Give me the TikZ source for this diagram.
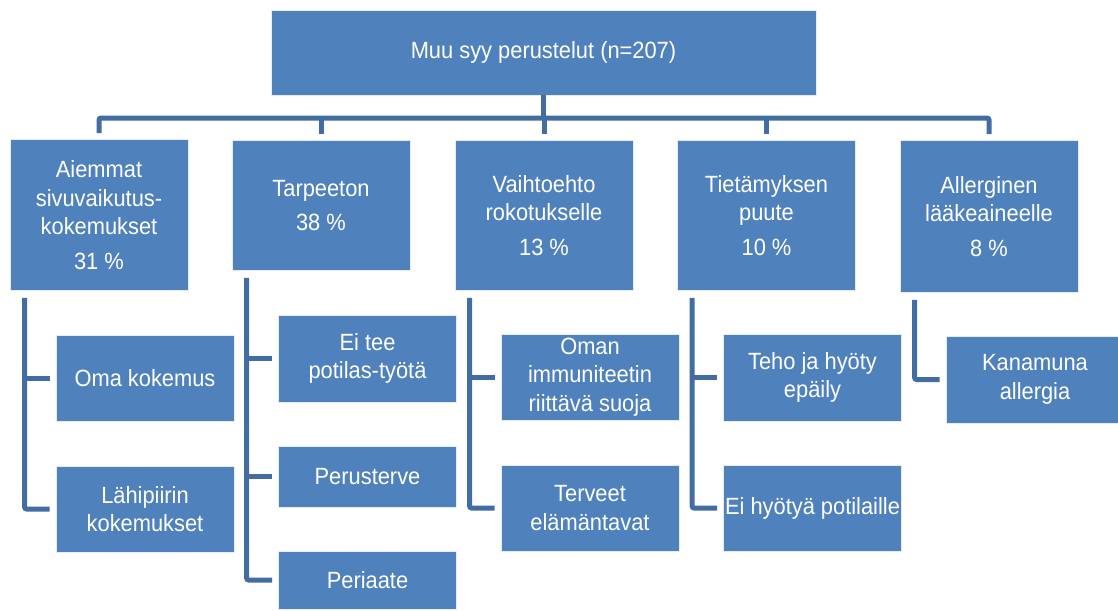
\documentclass[tikz,border=0pt]{standalone}
\usepackage{fontspec}
\setmainfont[FakeStretch=0.93]{Liberation Sans}
\usepackage{tikz}

\definecolor{boxblue}{HTML}{4F81BD}
\definecolor{linkblue}{HTML}{426DA3}

\begin{document}
\begin{tikzpicture}[x=1pt, y=-1pt,
    box/.style={rectangle, fill=boxblue, draw=white!85!boxblue, line width=0.8pt,
        text=white, align=center, inner sep=0pt, minimum width=178pt,
        font=\fontsize{23.5}{28.5}\selectfont},
    link/.style={draw=linkblue, line width=5pt, rounded corners=2pt}]
    \useasboundingbox (0,0) rectangle (1118,610);

    % Top box
    \node[box, minimum width=545pt, minimum height=85pt] (root) at (543.5,52.5) {Muu syy perustelut (n=207)};

    % Level 1: main reasons
    \node[box, anchor=north, minimum height=151pt] (c1) at (99,139) {Aiemmat\\sivuvaikutus-\\kokemukset\\[6pt]31 \%};
    \node[box, anchor=north, minimum height=130pt] (c2) at (321,140) {Tarpeeton\\[6pt]38 \%};
    \node[box, anchor=north, minimum height=150pt] (c3) at (544,140) {Vaihtoehto\\rokotukselle\\[6pt]13 \%};
    \node[box, anchor=north, minimum height=150pt] (c4) at (766.5,140) {Tietämyksen\\puute\\[6pt]10 \%};
    \node[box, anchor=north, minimum height=152pt] (c5) at (989,140) {Allerginen\\lääkeaineelle\\[6pt]8 \%};

    % Level 2: details
    \node[box, minimum height=86pt] (d1a) at (145,378) {Oma kokemus};
    \node[box, minimum height=86pt] (d1b) at (145,509) {Lähipiirin\\kokemukset};
    \node[box, minimum height=87pt] (d2a) at (367.5,358.5) {Ei tee\\potilas-työtä};
    \node[box, minimum height=61pt] (d2b) at (367.5,476.5) {Perusterve};
    \node[box, minimum height=58pt] (d2c) at (367.5,580) {Periaate};
    \node[box, minimum height=86pt] (d3a) at (590,377) {Oman\\immuniteetin\\riittävä suoja};
    \node[box, minimum height=86pt] (d3b) at (590,508) {Terveet\\elämäntavat};
    \node[box, minimum height=87pt] (d4a) at (812.5,377.5) {Teho ja hyöty\\epäily};
    \node[box, minimum height=86pt] (d4b) at (812.5,508) {Ei hyötyä potilaille};
    \node[box, minimum height=87pt] (d5a) at (1035,379.5) {Kanamuna\\allergia};

    % Connectors from the top box
    \coordinate (bar) at (543.5,118);
    \draw[link] (root.south) -- (root.south|-bar);
    \draw[link] ([yshift=6pt]c1.north) |- (bar) -| ([yshift=6pt]c5.north);
    \foreach \c in {c2,c3,c4}
        \draw[link] ([yshift=6pt]\c.north) -- (\c.north|-bar);

    % Spines on the left of each column
    \foreach \c in {c1,c2,c3,c4,c5}
        \coordinate (s\c) at ([xshift=15pt,yshift=-7pt]\c.south west);
    \draw[link] (sc1) |- ([xshift=-6pt]d1b.west);
    \draw[link] (sc1|-d1a.west) -- ([xshift=-6pt]d1a.west);
    \draw[link] (sc2) |- ([xshift=-6pt]d2c.west);
    \draw[link] (sc2|-d2a.west) -- ([xshift=-6pt]d2a.west);
    \draw[link] (sc2|-d2b.west) -- ([xshift=-6pt]d2b.west);
    \draw[link] (sc3) |- ([xshift=-6pt]d3b.west);
    \draw[link] (sc3|-d3a.west) -- ([xshift=-6pt]d3a.west);
    \draw[link] (sc4) |- ([xshift=-6pt]d4b.west);
    \draw[link] (sc4|-d4a.west) -- ([xshift=-6pt]d4a.west);
    \draw[link] (sc5) |- ([xshift=-6pt]d5a.west);
\end{tikzpicture}
\end{document}
